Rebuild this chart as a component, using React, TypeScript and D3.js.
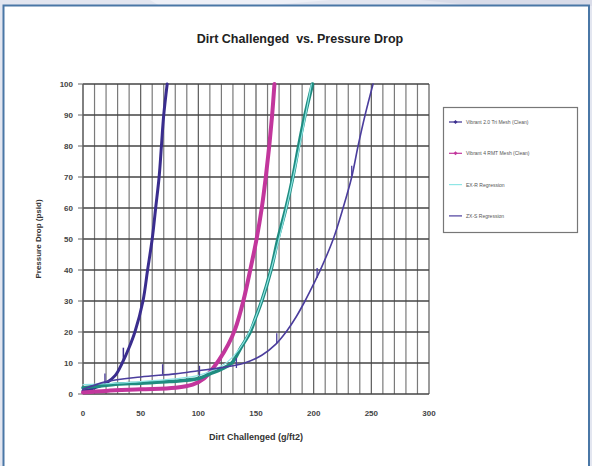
import React from "react";
import * as d3 from "d3";

const xTicks = [0, 50, 100, 150, 200, 250, 300];
const yTicks = [0, 10, 20, 30, 40, 50, 60, 70, 80, 90, 100];

const legendLabels = [
  "Vibrant 2.0 Tri Mesh (Clean)",
  "Vibrant 4 RMT Mesh (Clean)",
  "EX-R Regression",
  "ZX-S Regression",
];

// Series 1 – steep dark indigo
const s1: [number, number][] = [
  [0, 1], [10, 2], [20, 3.5], [28, 6], [34, 10], [40, 15], [45, 20], [52, 30],
  [56, 40], [60, 50], [63, 60], [66, 70], [68, 80], [70, 90], [73, 100],
];
// Series 2 – magenta
const s2: [number, number][] = [
  [0, 0.5], [20, 1], [50, 1.5], [80, 2], [95, 3], [105, 5], [112, 8], [118, 11],
  [126, 16], [132, 21], [139, 30], [145, 40], [150.5, 50], [155, 60], [158.5, 70],
  [161.5, 80], [164, 90], [166, 100],
];
// Series 3 – teal data
const s3: [number, number][] = [
  [0, 2], [25, 3], [50, 3.5], [75, 4], [100, 5], [110, 6.5], [120, 8], [129, 10],
  [137, 15], [145, 20], [150, 25], [155, 30], [163, 40], [169, 50], [176, 60],
  [182, 70], [187, 80], [192.5, 90], [199, 100],
];
// EX-R regression – light cyan
const sCyan: [number, number][] = [
  [0, 3], [50, 4], [100, 6], [120, 9], [130, 12], [140, 17], [150, 25], [160, 36],
  [170, 50], [180, 66], [190, 84], [198, 100],
];
// ZX-S regression – thin indigo
const s4: [number, number][] = [
  [0, 1.5], [20, 4], [50, 5.5], [80, 6.5], [100, 7.5], [120, 8.5], [140, 10],
  [155, 12.5], [167, 16], [177, 20.5], [185, 25], [192.5, 30], [200, 35.5], [207, 41],
  [217, 50], [225.5, 60], [233, 70], [238.5, 80], [244.6, 90], [251.5, 100],
];
const markers1: [number, number][] = [[35, 13]];
const markers4: [number, number][] = [
  [19, 5], [69, 8], [101, 7.5], [133, 10], [168, 18], [203, 39], [233, 72],
];

const W = 592;
const H = 466;
const left = 83;
const right = 429;
const top = 84;
const bottom = 394;

export default function App() {
  const x = d3.scaleLinear().domain([0, 300]).range([left, right]);
  const y = d3.scaleLinear().domain([0, 100]).range([bottom, top]);
  const line = d3
    .line<[number, number]>()
    .x((d) => x(d[0]))
    .y((d) => y(d[1]))
    .curve(d3.curveCatmullRom.alpha(0.5));
  const minorX = d3.range(0, 301, 10);

  const series = [
    { data: s1, color: "#3a2d8e", width: 3 },
    { data: s2, color: "#c2369c", width: 4 },
    { data: s3, color: "#1f8c80", width: 3.5 },
    { data: sCyan, color: "#8fe6e6", width: 1.2 },
    { data: s4, color: "#4b3d9d", width: 1.6 },
  ];
  const legendColors = ["#3a2d8e", "#c2369c", "#8fe6e6", "#4b3d9d"];

  return (
    <svg
      width={W}
      height={H}
      style={{ position: "absolute", left: 0, top: 0 }}
      fontFamily="Arial, Liberation Sans, sans-serif"
    >
      <rect x={0} y={0} width={W} height={H} fill="#e3e6f0" />
      <path d="M150,0 L330,0 L260,6 L160,6 Z" fill="#eef0f7" />
      <path d="M420,0 L592,0 L592,6 L480,6 Z" fill="#d9dce9" />
      <rect x={3.5} y={5.5} width={585.5} height={470} fill="#ffffff" stroke="#4a77a6" strokeWidth={2} />

      <text x={300} y={43} textAnchor="middle" fontSize={12.5} fontWeight="bold" fill="#222" style={{ whiteSpace: "pre" }}>
        {"Dirt Challenged  vs. Pressure Drop"}
      </text>

      {/* vertical gridlines */}
      {minorX.map((v) => (
        <line key={"vx" + v} x1={x(v)} x2={x(v)} y1={top} y2={bottom} stroke={v % 50 === 0 ? "#5a5a5a" : "#7a7a7a"} strokeWidth={1.2} />
      ))}
      {/* horizontal gridlines */}
      {yTicks.map((v) => (
        <line key={"hy" + v} x1={left} x2={right} y1={y(v)} y2={y(v)} stroke="#444" strokeWidth={1.3} />
      ))}
      {/* axis */}
      <line x1={left} x2={left} y1={top} y2={bottom} stroke="#666" />
      {yTicks.map((v) => (
        <g key={"yt" + v}>
          <line x1={left - 5} x2={left} y1={y(v)} y2={y(v)} stroke="#666" />
          <text x={left - 10} y={y(v) + 3} textAnchor="end" fontSize={8} fontWeight="bold" fill="#444">{v}</text>
        </g>
      ))}
      {xTicks.map((v) => (
        <text key={"xt" + v} x={x(v)} y={416} textAnchor="middle" fontSize={8} fontWeight="bold" fill="#444">{v}</text>
      ))}
      <text x={(left + right) / 2} y={440} textAnchor="middle" fontSize={9} fontWeight="bold" fill="#333">
        Dirt Challenged (g/ft2)
      </text>
      <text
        transform={`translate(41,${(top + bottom) / 2}) rotate(-90)`}
        textAnchor="middle"
        fontSize={8}
        fontWeight="bold"
        fill="#333"
      >
        Pressure Drop (psid)
      </text>

      {series.map((s, i) => (
        <path key={"s" + i} d={line(s.data) || ""} fill="none" stroke={s.color} strokeWidth={s.width} strokeLinejoin="round" strokeLinecap="round" />
      ))}
      {markers1.map((m, i) => (
        <line key={"m1" + i} x1={x(m[0])} x2={x(m[0])} y1={y(m[1]) - 6} y2={y(m[1]) + 6} stroke="#3a2d8e" strokeWidth={1.5} />
      ))}
      {markers4.map((m, i) => (
        <line key={"m4" + i} x1={x(m[0])} x2={x(m[0])} y1={y(m[1]) - 5} y2={y(m[1]) + 5} stroke="#4b3d9d" strokeWidth={1.3} />
      ))}

      {/* legend */}
      <rect x={443.5} y={107.5} width={134} height={125} fill="#fff" stroke="#777" strokeWidth={1.2} />
      {legendLabels.map((lab, i) => {
        const ly = 122 + i * 31.3;
        return (
          <g key={"lg" + i}>
            <line x1={449} x2={462} y1={ly} y2={ly} stroke={legendColors[i]} strokeWidth={1.2} />
            {i < 2 && <path d={`M455.5,${ly - 2} L457.5,${ly} L455.5,${ly + 2} L453.5,${ly} Z`} fill={legendColors[i]} />}
            <text x={466} y={ly + 2} fontSize={5} fill="#555">{lab}</text>
          </g>
        );
      })}
    </svg>
  );
}
